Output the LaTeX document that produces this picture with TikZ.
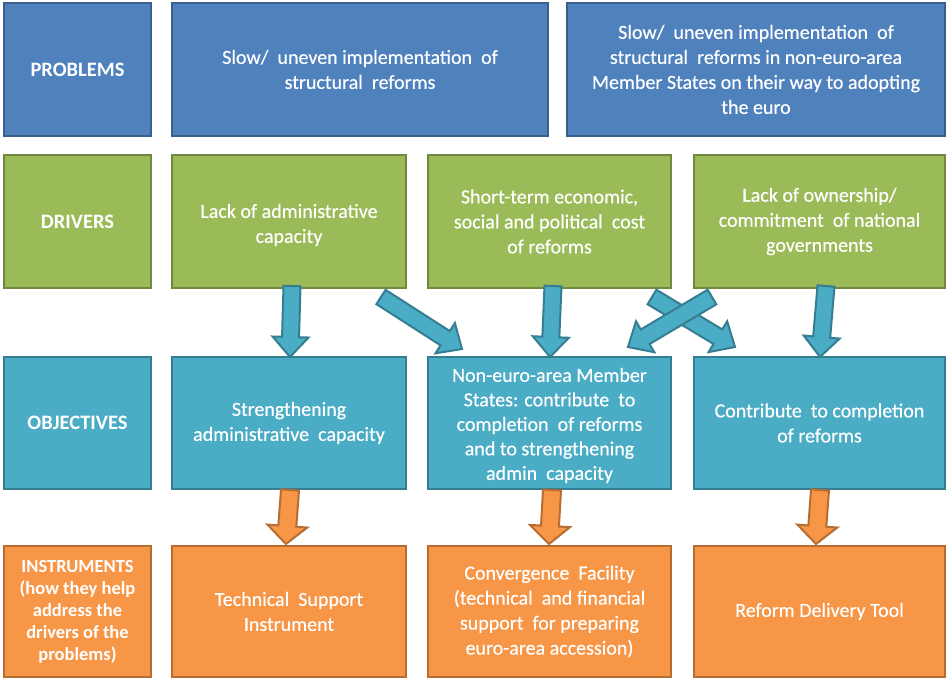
\documentclass[tikz,border=0pt]{standalone}
\usepackage{fontspec}
\setmainfont{Carlito}
\newfontfamily\bodyfont{Carlito}[FakeBold=0.35]
\usetikzlibrary{calc}
\definecolor{pfill}{HTML}{4F81BD}\definecolor{pdraw}{HTML}{3A5F8B}
\definecolor{dfill}{HTML}{9BBB59}\definecolor{ddraw}{HTML}{71893F}
\definecolor{ofill}{HTML}{4BACC6}\definecolor{odraw}{HTML}{357D91}
\definecolor{ifill}{HTML}{F79646}\definecolor{idraw}{HTML}{B66D31}
\tikzset{
  box/.style={rectangle, line width=2.4pt, text=white, align=center, inner sep=0pt,
    font=\bodyfont\fontsize{20}{25}\selectfont},
  boxtext/.style={text=white, align=center, inner sep=0pt, font=\bodyfont\fontsize{20}{25}\selectfont},
  lbl/.style={box, font=\fontsize{20.5}{22}\selectfont\bfseries},
  prob/.style={fill=pfill, draw=pdraw},
  drv/.style={fill=dfill, draw=ddraw},
  obj/.style={fill=ofill, draw=odraw},
  ins/.style={fill=ifill, draw=idraw},
  tarrow/.style={fill=ofill, draw=odraw, line width=2pt, line join=miter},
  oarrow/.style={fill=ifill, draw=idraw, line width=2pt, line join=miter},
}
\newcommand{\mybox}[7]{\node[#2, minimum width={#5-#3}, minimum height={#6-#4}] (#1) at ({(#3+#5)/2},{(#4+#6)/2}) {#7};}
\newcommand{\blockarrow}[6]{%
  \coordinate (hb) at ($(#3)!#6!(#2)$);
  \draw[#1] ($(#2)!#4!90:(#3)$) -- ($(hb)!#4!90:(#3)$) -- ($(hb)!#5!90:(#3)$) -- (#3)
    -- ($(hb)!#5!-90:(#3)$) -- ($(hb)!#4!-90:(#3)$) -- ($(#2)!#4!-90:(#3)$) -- cycle;}
\begin{document}
\begin{tikzpicture}[x=1pt,y=-1pt]
\useasboundingbox (0,0) rectangle (948,680);
% problems
\mybox{plab}{lbl,prob}{4}{3}{151}{136}{PROBLEMS}
\mybox{p1}{box,prob}{172}{3}{548}{136}{Slow/ \ uneven implementation \ of\\structural \ reforms}
\mybox{p2}{box,prob}{567}{3}{945}{136}{Slow/ \ uneven implementation \ of\\structural \ reforms in non-euro-area\\Member States on their way to adopting\\the euro}
% drivers
\mybox{dlab}{lbl,drv}{4}{155}{151}{288}{DRIVERS}
\mybox{d1}{box,drv}{172}{155}{406}{288}{}
\node[boxtext] (d1t) at ($(d1.center)+(0,3.5)$) {Lack of administrative\\capacity};
\mybox{d2}{box,drv}{428}{155}{671}{288}{Short-term economic,\\social and political \ cost\\of reforms}
\mybox{d3}{box,drv}{694}{155}{945}{288}{Lack of ownership/\\commitment \ of national\\governments}
% objectives
\mybox{olab}{lbl,obj}{4}{357}{151}{489}{OBJECTIVES}
\mybox{o1}{box,obj}{172}{357}{406}{489}{Strengthening\\administrative \ capacity}
\mybox{o2}{box,obj}{428}{357}{671}{489}{}
\node[boxtext, font=\bodyfont\fontsize{20}{24.5}\selectfont] (o2t) at ($(o2.center)+(0,2.5)$) {Non-euro-area Member\\States: contribute \ to\\completion \ of reforms\\and to strengthening\\admin \ capacity};
\mybox{o3}{box,obj}{694}{357}{945}{489}{Contribute \ to completion\\of reforms}
% instruments
\mybox{ilab}{box,ins,font=\fontsize{18.5}{22}\selectfont\bfseries}{4}{546}{151}{677}{INSTRUMENTS\\(how they help\\address the\\drivers of the\\problems)}
\mybox{i1}{box,ins}{172}{546}{406}{677}{Technical \ Support\\Instrument}
\mybox{i2}{box,ins}{428}{546}{671}{677}{Convergence \ Facility\\(technical \ and financial\\support \ for preparing\\euro-area accession)}
\mybox{i3}{box,ins}{694}{546}{945}{677}{Reform Delivery Tool}
% arrow end points
\coordinate (a1s) at (292,286); \coordinate (a1e) at (290,357);
\coordinate (a2s) at (381,297); \coordinate (a2e) at (462,349);
\coordinate (a3s) at (553,286); \coordinate (a3e) at (550,357);
\coordinate (a4s) at (652,297); \coordinate (a4e) at (735,347);
\coordinate (a5s) at (712,297); \coordinate (a5e) at (628,347);
\coordinate (a6s) at (826,286); \coordinate (a6e) at (820,357);
\coordinate (b1s) at (290,490); \coordinate (b1e) at (286,544);
\coordinate (b2s) at (552,490); \coordinate (b2e) at (549,544);
\coordinate (b3s) at (820,490); \coordinate (b3e) at (816,544);
% teal arrows
\blockarrow{tarrow}{a1s}{a1e}{8.5pt}{18pt}{20pt}
\blockarrow{tarrow}{a2s}{a2e}{8.5pt}{18pt}{20pt}
\blockarrow{tarrow}{a3s}{a3e}{8.5pt}{18pt}{20pt}
\blockarrow{tarrow}{a4s}{a4e}{8.5pt}{18pt}{20pt}
\blockarrow{tarrow}{a5s}{a5e}{8.5pt}{18pt}{20pt}
\blockarrow{tarrow}{a6s}{a6e}{8.5pt}{18pt}{20pt}
% orange arrows
\blockarrow{oarrow}{b1s}{b1e}{9pt}{20pt}{18pt}
\blockarrow{oarrow}{b2s}{b2e}{9pt}{20pt}{18pt}
\blockarrow{oarrow}{b3s}{b3e}{9pt}{20pt}{18pt}
\end{tikzpicture}
\end{document}
